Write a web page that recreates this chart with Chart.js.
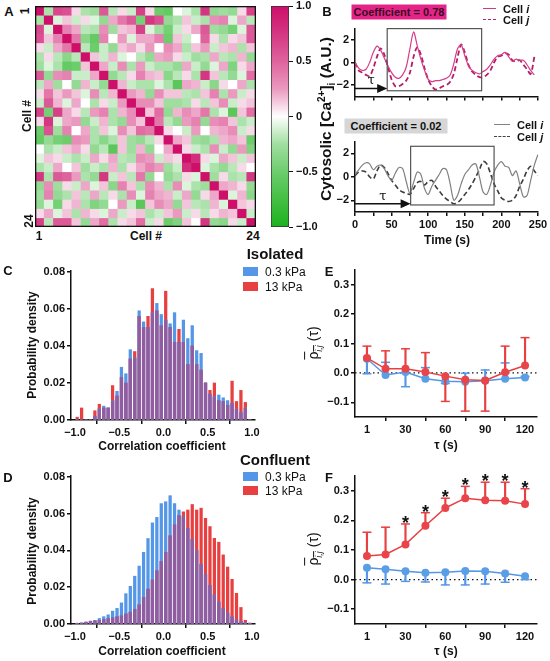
<!DOCTYPE html>
<html><head><meta charset="utf-8">
<script src="https://cdn.jsdelivr.net/npm/chart.js@4.4.1/dist/chart.umd.min.js"></script>
<style>
html,body{margin:0;padding:0;background:#fff;}
body{width:550px;height:661px;position:relative;overflow:hidden;font-family:'Liberation Sans',Arial,sans-serif;color:#111;}
canvas{position:absolute;}
.t{position:absolute;white-space:nowrap;font-weight:bold;line-height:1;}
.c{transform:translate(-50%,-50%);}
.l{transform:translate(0,-50%);}
.r{transform:translate(-50%,-50%) rotate(-90deg);}
.sw{position:absolute;}
</style></head><body>

<canvas id="cA" width="221" height="221" style="left:35px;top:6px"></canvas>
<canvas id="cBar" width="60" height="241" style="left:271px;top:-4px"></canvas>
<canvas id="cB1" width="230" height="85" style="left:320px;top:20px"></canvas>
<canvas id="cB2" width="230" height="106" style="left:320px;top:133px"></canvas>
<canvas id="cC" width="262" height="182" style="left:0px;top:262px"></canvas>
<canvas id="cD" width="262" height="181" style="left:0px;top:467px"></canvas>
<canvas id="cE" width="245" height="180" style="left:300px;top:261px"></canvas>
<canvas id="cF" width="245" height="181" style="left:300px;top:467px"></canvas>

<!-- panel letters -->
<div class="t c" style="left:9px;top:11px;font-size:13px">A</div>
<div class="t c" style="left:327px;top:11px;font-size:13px">B</div>
<div class="t c" style="left:8px;top:270px;font-size:13px">C</div>
<div class="t c" style="left:8px;top:477px;font-size:13px">D</div>
<div class="t c" style="left:329px;top:271px;font-size:13px">E</div>
<div class="t c" style="left:329px;top:477px;font-size:13px">F</div>

<!-- heatmap labels -->
<div class="t r" style="left:25px;top:11px;font-size:12px">1</div>
<div class="t r" style="left:27px;top:116px;font-size:12px">Cell #</div>
<div class="t r" style="left:29px;top:221px;font-size:12px">24</div>
<div class="t c" style="left:39px;top:236px;font-size:12px">1</div>
<div class="t c" style="left:146px;top:236px;font-size:12px">Cell #</div>
<div class="t c" style="left:253px;top:236px;font-size:12px">24</div>

<!-- panel B texts -->
<div class="t c" style="left:399px;top:12px;width:95px;height:15px;line-height:15px;text-align:center;font-size:11px;background:#e5248a;color:#3a0a1e">Coefficient = 0.78</div>
<div class="sw" style="left:483px;top:8px;width:13px;border-top:1.5px solid #d03a84"></div>
<div class="t l" style="left:503px;top:9px;font-size:11px">Cell <i>i</i></div>
<div class="sw" style="left:483px;top:19px;width:13px;border-top:1.8px dashed #b0246e"></div>
<div class="t l" style="left:503px;top:20px;font-size:11px">Cell <i>j</i></div>

<div class="t c" style="left:396px;top:126px;width:103px;height:15px;line-height:15px;text-align:center;font-size:11px;background:#d6d6d6;color:#111">Coefficient = 0.02</div>
<div class="sw" style="left:494px;top:124px;width:16px;border-top:1.5px solid #808080"></div>
<div class="t l" style="left:517px;top:125px;font-size:11px">Cell <i>i</i></div>
<div class="sw" style="left:494px;top:136px;width:16px;border-top:1.8px dashed #444"></div>
<div class="t l" style="left:517px;top:137px;font-size:11px">Cell <i>j</i></div>

<div class="t r" style="left:327px;top:119px;font-size:15.5px">Cytosolic [Ca<sup style="font-size:10px">2+</sup>]<sub style="font-size:10px">i</sub> (A.U.)</div>
<div class="t c" style="left:447px;top:240px;font-size:12px">Time (s)</div>

<!-- panel C/D texts -->
<div class="t c" style="left:275px;top:253px;font-size:15px">Isolated</div>
<div class="sw" style="left:243px;top:267px;width:15px;height:9px;background:rgb(84,150,232)"></div>
<div class="t l" style="left:265px;top:272px;font-size:12px;font-weight:normal">0.3 kPa</div>
<div class="sw" style="left:243px;top:282px;width:15px;height:9px;background:rgb(232,64,64)"></div>
<div class="t l" style="left:265px;top:287px;font-size:12px;font-weight:normal">13 kPa</div>
<div class="t r" style="left:32px;top:345px;font-size:12px">Probability density</div>
<div class="t c" style="left:162px;top:446px;font-size:12px">Correlation coefficient</div>

<div class="t c" style="left:275px;top:459px;font-size:15px">Confluent</div>
<div class="sw" style="left:243px;top:472px;width:15px;height:9px;background:rgb(84,150,232)"></div>
<div class="t l" style="left:265px;top:477px;font-size:12px;font-weight:normal">0.3 kPa</div>
<div class="sw" style="left:243px;top:486px;width:15px;height:9px;background:rgb(232,64,64)"></div>
<div class="t l" style="left:265px;top:491px;font-size:12px;font-weight:normal">13 kPa</div>
<div class="t r" style="left:32px;top:551px;font-size:12px">Probability density</div>
<div class="t c" style="left:162px;top:651px;font-size:12px">Correlation coefficient</div>

<!-- panel E/F texts -->
<div class="t r" style="left:315px;top:343px;font-size:14px;font-weight:normal"><span style="text-decoration:overline">ρ<sub style="font-size:9px;font-style:italic">i,j</sub></span> (τ)</div>
<div class="t c" style="left:446px;top:445px;font-size:12px">τ (s)</div>
<div class="t r" style="left:315px;top:549px;font-size:14px;font-weight:normal"><span style="text-decoration:overline">ρ<sub style="font-size:9px;font-style:italic">i,j</sub></span> (τ)</div>
<div class="t c" style="left:446px;top:651px;font-size:12px">τ (s)</div>

<script>
// ---------------- DATA ----------------
// Panel A: correlation matrix (lower triangle, row r holds columns 1..r-1)
const cellLabels = ['1','2','3','4','5','6','7','8','9','10','11','12','13','14','15','16','17','18','19','20','21','22','23','24'];
const corrLower = [
  [],
  [-0.2],
  [0.65,-0.05],
  [0.6,0.1,0.35],
  [0.05,-0.1,0.2,0.4],
  [-0.2,0.05,-0.15,-0.35,-0.15],
  [-0.25,-0.05,-0.2,-0.55,-0.5,0.1],
  [0.55,-0.3,0.3,0.35,-0.1,-0.1,0.2],
  [-0.15,0.2,-0.25,0.0,-0.3,0.15,-0.1,-0.3],
  [0.05,0.4,0.1,0.25,0.1,-0.05,0.3,-0.15,0.15],
  [-0.1,0.55,0.15,-0.05,0.2,0.0,-0.2,0.05,-0.1,0.25],
  [0.7,-0.45,0.7,0.2,0.05,-0.15,0.25,0.35,-0.2,0.15,0.3],
  [0.05,0.75,-0.05,0.2,0.25,-0.3,-0.1,0.15,-0.2,-0.3,0.3,0.1],
  [-0.5,0.6,-0.25,0.35,0.0,0.2,-0.2,0.1,-0.05,0.3,0.1,0.45,0.4],
  [-0.55,-0.3,-0.45,-0.5,0.3,0.25,-0.2,-0.35,-0.2,0.1,-0.25,-0.3,-0.15,0.05],
  [0.0,-0.2,-0.1,0.1,0.2,0.05,-0.3,-0.15,-0.6,0.1,-0.25,0.15,-0.3,0.0,0.2],
  [-0.05,0.1,0.05,-0.1,-0.2,-0.1,0.2,0.05,0.2,-0.15,-0.2,0.3,0.25,-0.1,0.1,0.05],
  [-0.2,-0.1,0.2,0.0,0.1,-0.25,-0.1,-0.2,0.15,-0.2,0.05,0.2,0.35,0.25,-0.25,-0.1,0.8],
  [0.75,-0.2,0.55,0.5,0.25,-0.2,-0.3,0.75,-0.1,0.1,-0.15,0.4,-0.3,0.0,-0.3,-0.2,0.05,-0.05],
  [-0.3,0.3,-0.25,0.05,-0.1,0.2,-0.05,0.1,-0.35,0.35,0.1,-0.2,0.3,0.15,-0.2,0.3,-0.05,-0.2,-0.25],
  [-0.25,0.35,-0.3,-0.2,0.1,-0.15,0.2,-0.15,0.05,-0.2,0.3,-0.05,0.35,0.2,0.15,-0.1,0.2,-0.3,0.05,0.2],
  [-0.3,-0.05,-0.45,0.05,0.15,-0.2,-0.4,-0.3,0.0,0.25,-0.1,-0.6,0.1,0.3,0.2,-0.3,0.1,-0.15,-0.2,0.15,-0.05],
  [0.05,0.2,-0.05,0.1,-0.2,0.15,0.05,-0.05,0.2,-0.1,0.05,0.1,-0.2,-0.1,0.1,0.25,-0.1,0.05,-0.15,0.05,0.15,0.1],
  [0.7,-0.15,0.55,0.55,0.1,-0.3,0.2,0.45,-0.2,0.05,0.1,0.45,-0.1,0.05,-0.5,-0.4,0.1,0.0,0.75,-0.3,-0.35,0.05,-0.1]
];
const cbarTicks = [-1, -0.5, 0, 0.5, 1];
const cbarTickLabels = ['−1.0', '−0.5', '0', '0.5', '1.0'];
const cbarStops = [1, 0.75, 0.5, 0.25, 0, -0.25, -0.5, -0.75, -1];

// Panel B: traces
const timeS = [0,5,10,15,20,25,30,35,40,45,50,55,60,65,70,75,80,85,90,95,100,105,110,115,120,125,130,135,140,145,150,155,160,165,170,175,180,185,190,195,200,205,210,215,220,225,230,235,240,245,250];
const topCellI = [0.0,-0.5,-0.7,-0.6,0.0,0.9,1.45,1.1,0.4,-0.3,-0.9,-1.3,-1.4,-1.1,-0.4,1.2,2.7,1.5,0.3,-0.7,-1.5,-1.7,-1.6,-1.6,-1.5,-1.4,-1.1,-0.1,1.2,1.55,0.6,-0.3,-0.7,-0.9,-1.0,-0.8,-0.6,-0.2,0.3,0.6,0.7,0.9,0.5,0.1,0.3,0.2,0.2,-0.2,-0.7,-1.1];
const topCellJ = [0.0,-0.7,-0.9,-1.1,-1.2,-0.5,0.5,1.25,0.7,-0.4,-1.5,-2.1,-2.1,-1.9,-1.6,-0.9,0.5,1.35,0.7,-0.5,-1.5,-2.1,-2.4,-2.3,-2.1,-2.0,-1.7,-1.0,0.4,1.6,0.9,-0.2,-0.8,-1.1,-1.3,-1.3,-1.1,-0.7,0.0,0.5,0.6,0.8,0.7,0.2,0.1,0.2,-0.2,-0.6,-1.0,0.5];
const botCellI = [0.2,0.6,1.0,1.2,1.1,0.6,0.9,1.0,0.7,0.1,-0.3,0.3,0.8,0.7,-0.4,-1.4,-0.5,0.4,0.2,-1.0,-1.5,-0.8,-0.3,0.2,0.7,0.6,-0.6,-2.0,-1.6,-0.6,0.2,0.6,1.0,1.1,0.0,-1.3,-1.5,-0.7,0.4,1.0,1.3,0.9,0.8,0.1,0.5,-0.6,-1.7,-1.6,-0.3,1.0,1.9];
const botCellJ = [0.1,0.4,0.5,0.4,0.0,-0.2,0.5,1.0,0.8,0.3,-0.3,-0.7,-1.1,-1.3,-1.4,-1.5,-1.0,-0.5,-0.4,-0.7,-0.4,-0.3,-0.8,-1.2,-1.6,-1.9,-2.1,-2.3,-2.2,-1.9,-1.5,-1.1,-0.6,0.0,0.6,1.3,1.1,0.3,-0.6,-1.2,-1.8,-2.0,-2.1,-2.0,-1.6,-0.8,-0.2,0.5,0.9,0.5,0.1];
// window (tau shift) annotations: [startTime, endTime, lowValue, highValue, arrowValue]
const topWindow = [44, 173, -2.5, 3.0, -2.3];
const botWindow = [76, 190, -2.4, 2.6, -2.3];
const timeTicks = [0,25,50,75,100,125,150,175,200,225,250];
const timeTickLabels = ['0','','50','','100','','150','','200','','250'];
const traceTicks = [-2, 0, 2];
const traceTickLabels = ['−2', '0', '2'];

// Panels C, D: histograms
const binCenters = [-0.975,-0.925,-0.875,-0.825,-0.775,-0.725,-0.675,-0.625,-0.575,-0.525,-0.475,-0.425,-0.375,-0.325,-0.275,-0.225,-0.175,-0.125,-0.075,-0.025,0.025,0.075,0.125,0.175,0.225,0.275,0.325,0.375,0.425,0.475,0.525,0.575,0.625,0.675,0.725,0.775,0.825,0.875,0.925,0.975];
const isoSoft = [0,0,0,0,0.002,0.006,0.0075,0.0065,0.0105,0.0155,0.0285,0.025,0.038,0.0335,0.059,0.053,0.050,0.058,0.063,0.057,0.054,0.052,0.058,0.042,0.054,0.044,0.051,0.0375,0.036,0.020,0.014,0.0125,0.0135,0.012,0.0105,0.009,0.006,0.004,0.0065,0];
const isoStiff = [0.0015,0.0065,0,0,0.005,0.0085,0.0065,0.0065,0.0186,0.013,0.023,0.020,0.033,0.037,0.056,0.050,0.056,0.071,0.059,0.051,0.0696,0.050,0.042,0.049,0.042,0.030,0.040,0.030,0.027,0.020,0.016,0.020,0.0105,0.010,0.008,0.021,0.010,0.016,0.0095,0];
const conSoft = [0.0003,0.0006,0.001,0.0015,0.002,0.003,0.004,0.005,0.007,0.0085,0.0115,0.0165,0.0205,0.026,0.0315,0.039,0.0465,0.055,0.058,0.0655,0.0665,0.0698,0.0655,0.062,0.0585,0.052,0.046,0.040,0.0325,0.027,0.021,0.016,0.012,0.0085,0.006,0.004,0.0025,0.0015,0.0008,0.0003];
const conStiff = [0.0002,0.0005,0.001,0.0015,0.0017,0.002,0.0025,0.003,0.0035,0.004,0.0045,0.0055,0.0065,0.008,0.0105,0.0145,0.019,0.024,0.029,0.034,0.039,0.048,0.054,0.059,0.061,0.062,0.065,0.062,0.063,0.0575,0.053,0.0466,0.0445,0.0376,0.031,0.0243,0.0167,0.009,0.002,0.0005];
const histTicks = [-1, -0.5, 0, 0.5, 1];
const histTickLabels = ['−1.0', '−0.5', '0.0', '0.5', '1.0'];
const densTicks = [0, 0.02, 0.04, 0.06, 0.08];
const densTickLabels = ['0.00', '0.02', '0.04', '0.06', '0.08'];

// Panels E, F: mean correlation vs tau (mean and end of error bar)
const tau = [1, 15, 30, 45, 60, 75, 90, 105, 120];
const isoStiffMean = [0.051, 0.014, 0.014, 0.003, -0.011, -0.023, -0.026, 0.002, 0.025];
const isoStiffErr  = [0.091, 0.075, 0.082, 0.069, -0.097, -0.130, -0.130, 0.091, 0.120];
const isoSoftMean  = [0.048, -0.007, 0.003, -0.020, -0.028, -0.030, -0.027, -0.020, -0.016];
const isoSoftErr   = [-0.003, 0.036, -0.047, 0.018, -0.036, -0.001, 0.010, 0.034, -0.012];
const conStiffMean = [0.080, 0.085, 0.119, 0.182, 0.242, 0.275, 0.268, 0.266, 0.255];
const conStiffErr  = [0.160, 0.177, 0.188, 0.226, 0.275, 0.315, 0.329, 0.329, 0.307];
const conSoftMean  = [0.040, 0.035, 0.028, 0.023, 0.025, 0.029, 0.028, 0.021, 0.011];
const conSoftErr   = [-0.011, -0.015, -0.006, -0.008, -0.018, -0.018, -0.015, -0.009, 0.000];
const isoSig = [0,0,0,0,0,0,0,0,0];
const conSig = [0,0,1,1,1,1,1,1,1];
const tauTicks = [1, 30, 60, 90, 120];
const tauTickLabels = ['1', '30', '60', '90', '120'];
const rhoTicks = [-0.1, 0, 0.1, 0.2, 0.3];
const rhoTickLabels = ['−0.1', '0.0', '0.1', '0.2', '0.3'];

// ---------------- STYLE ----------------
Chart.defaults.font.family = "'Liberation Sans', Arial, sans-serif";
Chart.defaults.font.size = 11;
Chart.defaults.font.weight = 'bold';
Chart.defaults.color = '#111';

const BLUE = 'rgb(84,150,232)', RED = 'rgb(232,64,64)', PURPLE = 'rgb(145,92,160)';
const PT_RED = 'rgb(232,68,74)', PT_BLUE = 'rgb(90,158,230)';

function colorFor(v){
  const pos = [205,15,105], neg = [30,178,30];
  const t = Math.pow(Math.min(1, Math.abs(v)), 0.62);
  const c = v >= 0 ? pos : neg;
  return 'rgb(' + c.map(k => Math.round(255 + (k - 255) * t)).join(',') + ')';
}

function scale(o){
  return {
    type: o.type || 'linear', position: o.pos, min: o.min, max: o.max, offset: false,
    afterBuildTicks: s => { s.ticks = o.ticks.map(v => ({value: v})); },
    afterFit: s => { if (o.pos === 'left' || o.pos === 'right') s.width = o.size; else s.height = o.size; },
    ticks: { autoSkip: false, maxRotation: 0, padding: o.pad ?? 2, color: '#111', font: {size: 11, weight: 'bold'},
             callback: (v, i) => o.labels ? o.labels[i] : '' },
    grid: { drawOnChartArea: false, drawTicks: true, tickLength: o.tl ?? 4, color: '#111', lineWidth: o.lw ?? 1.5 },
    border: { display: true, color: '#111', width: o.lw ?? 1.5 }
  };
}
const base = (extra) => Object.assign({ responsive: false, animation: false, events: [], devicePixelRatio: 1,
  plugins: { legend: {display: false}, tooltip: {enabled: false} } }, extra);

// ---------------- A: heatmap ----------------
const N = cellLabels.length;
const corr = cellLabels.map((_, r) => cellLabels.map((_, c) => r === c ? 1 : (r > c ? corrLower[r][c] : corrLower[c][r])));
const framePlugin = { id: 'frame', afterDraw(ch){ const a = ch.chartArea, x = ch.ctx; x.save(); x.strokeStyle = '#111'; x.lineWidth = 1.6; x.strokeRect(a.left + 0.5, a.top + 0.5, a.width - 1, a.height - 1); x.restore(); } };
new Chart(document.getElementById('cA'), {
  type: 'bar',
  data: { labels: cellLabels, datasets: corr.map(row => ({ data: row.map(() => 1), backgroundColor: row.map(colorFor), borderWidth: 0, barPercentage: 1, categoryPercentage: 1 })) },
  options: base({ layout: {padding: 0}, scales: { x: {display: false, stacked: true}, y: {display: false, stacked: true, reverse: true, min: 0, max: N} } }),
  plugins: [framePlugin]
});

// colour bar
new Chart(document.getElementById('cBar'), {
  type: 'bar',
  data: { labels: [''], datasets: [{ data: [[cbarTicks[0], cbarTicks[cbarTicks.length - 1]]],
    backgroundColor: (ctx) => { const a = ctx.chart.chartArea; if (!a) return '#fff';
      const g = ctx.chart.ctx.createLinearGradient(0, a.top, 0, a.bottom);
      cbarStops.forEach((v, i) => g.addColorStop(i / (cbarStops.length - 1), colorFor(v)));
      return g; },
    borderColor: '#333', borderWidth: 1, borderSkipped: false, barPercentage: 1, categoryPercentage: 1 }] },
  options: base({ layout: {padding: {top: 10, bottom: 10, left: 0, right: 0}},
    scales: { x: {display: false}, y: Object.assign(scale({pos: 'right', min: -1, max: 1, ticks: cbarTicks, labels: cbarTickLabels, size: 42, lw: 1, pad: 3}), {border: {display: false}}) } })
});

// ---------------- B: traces ----------------
const windowPlugin = (win) => ({ id: 'win', afterDatasetsDraw(ch){
  const xs = ch.scales.x, ys = ch.scales.y, c = ch.ctx;
  const x0 = xs.getPixelForValue(win[0]), x1 = xs.getPixelForValue(win[1]);
  const y0 = ys.getPixelForValue(win[3]), y1 = ys.getPixelForValue(win[2]);
  c.save(); c.strokeStyle = '#555'; c.lineWidth = 1.2; c.strokeRect(x0, y0, x1 - x0, y1 - y0);
  const ya = ys.getPixelForValue(win[4]), xa0 = xs.getPixelForValue(timeTicks[0]);
  c.strokeStyle = '#111'; c.fillStyle = '#111'; c.lineWidth = 1.5;
  c.beginPath(); c.moveTo(xa0, ya); c.lineTo(x0 - 8, ya); c.stroke();
  c.beginPath(); c.moveTo(x0, ya); c.lineTo(x0 - 10, ya - 4.5); c.lineTo(x0 - 10, ya + 4.5); c.closePath(); c.fill();
  c.font = '13px "DejaVu Serif", serif'; c.textAlign = 'center'; c.textBaseline = 'alphabetic';
  c.fillText('τ', (xa0 + x0) / 2, ya - 4);
  c.restore(); } });

function traceChart(id, si, sj, colI, colJ, wI, wJ, dash, win, labels, xSize){
  const pts = (arr) => arr.map((y, i) => ({x: timeS[i], y}));
  new Chart(document.getElementById(id), {
    type: 'line',
    data: { datasets: [
      { data: pts(si), borderColor: colI, borderWidth: wI, pointRadius: 0, tension: 0.3, fill: false },
      { data: pts(sj), borderColor: colJ, borderWidth: wJ, borderDash: dash, pointRadius: 0, tension: 0.3, fill: false } ] },
    options: base({ layout: {padding: {top: 7, right: 12, left: 0, bottom: 0}},
      scales: { x: scale({pos: 'bottom', min: 0, max: 250, ticks: timeTicks, labels: labels, size: xSize}),
                y: scale({pos: 'left', min: -3, max: 3, ticks: traceTicks, labels: traceTickLabels, size: 35}) } }),
    plugins: [windowPlugin(win)]
  });
}
traceChart('cB1', topCellI, topCellJ, 'rgb(214,60,135)', 'rgb(180,30,105)', 1.2, 1.8, [5,3], topWindow, null, 7);
traceChart('cB2', botCellI, botCellJ, 'rgb(128,128,128)', 'rgb(60,60,60)', 1.2, 1.6, [5,3], botWindow, timeTickLabels, 27);

// ---------------- C, D: histograms ----------------
function histChart(id, soft, stiff){
  const pts = (arr) => binCenters.map((x, i) => ({x, y: arr[i]}));
  const both = soft.map((v, i) => Math.min(v, stiff[i]));
  const ds = (arr, col) => ({ type: 'bar', data: pts(arr), backgroundColor: col, borderWidth: 0, grouped: false, barThickness: 2.6 });
  new Chart(document.getElementById(id), {
    type: 'bar',
    data: { datasets: [ ds(both, PURPLE), ds(soft, BLUE), ds(stiff, RED) ] },
    options: base({ layout: {padding: {top: 9, right: 7, left: 0, bottom: 0}},
      scales: { x: scale({pos: 'bottom', min: -1.045, max: 1.034, ticks: histTicks, labels: histTickLabels, size: 24}),
                y: scale({pos: 'left', min: 0, max: 0.0805, ticks: densTicks, labels: densTickLabels, size: 71}) } })
  });
}
histChart('cC', isoSoft, isoStiff);
histChart('cD', conSoft, conStiff);

// ---------------- E, F: mean correlation ----------------
const starPlugin = (ends, sig) => ({ id: 'stars', afterDatasetsDraw(ch){
  const xs = ch.scales.x, ys = ch.scales.y, c = ch.ctx;
  c.save(); c.fillStyle = '#111'; c.font = 'bold 18px "Liberation Sans", Arial, sans-serif'; c.textAlign = 'center'; c.textBaseline = 'alphabetic';
  tau.forEach((t, i) => { if (sig[i]) c.fillText('*', xs.getPixelForValue(t), ys.getPixelForValue(ends[i]) + 5); });
  c.restore(); } });

function tauChart(id, rMean, rErr, bMean, bErr, sig){
  const pts = (arr) => tau.map((x, i) => ({x, y: arr[i]}));
  const errs = (m, e) => tau.map((x, i) => ({x, y: [m[i], e[i]]}));
  const xMin = -8, xMax = 129;
  new Chart(document.getElementById(id), {
    type: 'line',
    data: { datasets: [
      { type: 'line', data: pts(rMean), borderColor: RED, backgroundColor: PT_RED, borderWidth: 1.5, pointRadius: 4, pointBorderWidth: 0, order: 0 },
      { type: 'bar', data: errs(rMean, rErr), backgroundColor: RED, borderWidth: 0, barThickness: 1.5, grouped: false, order: 1 },
      { type: 'scatter', data: pts(rErr), pointStyle: 'line', pointRadius: 4.5, borderColor: RED, pointBorderWidth: 1.5, order: 1 },
      { type: 'line', data: pts(bMean), borderColor: BLUE, backgroundColor: PT_BLUE, borderWidth: 1.5, pointRadius: 4, pointBorderWidth: 0, order: 2 },
      { type: 'bar', data: errs(bMean, bErr), backgroundColor: BLUE, borderWidth: 0, barThickness: 1.5, grouped: false, order: 3 },
      { type: 'scatter', data: pts(bErr), pointStyle: 'line', pointRadius: 4.5, borderColor: BLUE, pointBorderWidth: 1.5, order: 3 },
      { type: 'line', data: [{x: xMin, y: 0}, {x: xMax, y: 0}], borderColor: '#111', borderDash: [1.5, 3], borderWidth: 1.3, pointRadius: 0, order: 5 } ] },
    options: base({ layout: {padding: {top: 9, right: 8, left: 0, bottom: 0}},
      scales: { x: scale({pos: 'bottom', min: xMin, max: xMax, ticks: tauTicks, labels: tauTickLabels, size: 24}),
                y: scale({pos: 'left', min: -0.15, max: 0.35, ticks: rhoTicks, labels: rhoTickLabels, size: 55}) } }),
    plugins: [starPlugin(rErr, sig)]
  });
}
tauChart('cE', isoStiffMean, isoStiffErr, isoSoftMean, isoSoftErr, isoSig);
tauChart('cF', conStiffMean, conStiffErr, conSoftMean, conSoftErr, conSig);
</script>
</body></html>
